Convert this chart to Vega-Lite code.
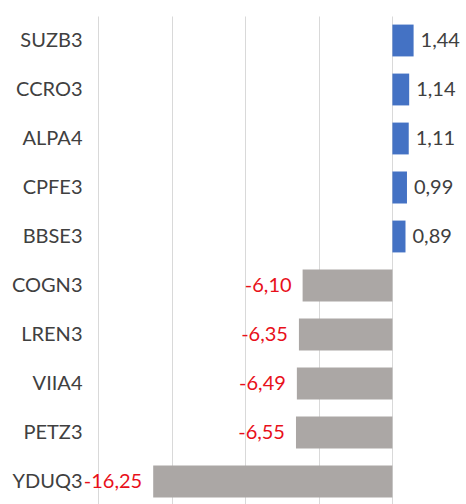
{
  "$schema": "https://vega.github.io/schema/vega-lite/v6.json",
  "autosize": "none",
  "width": 368,
  "height": 490,
  "padding": {"left": 98, "top": 16, "right": 0, "bottom": 0},
  "background": "white",
  "config": {
    "view": {"stroke": null},
    "locale": {"number": {"decimal": ",", "thousands": ".", "grouping": [3], "currency": ["R$", ""], "minus": "-"}},
    "font": "Lato"
  },
  "data": {"values": [
    {"ticker": "SUZB3", "value": 1.44},
    {"ticker": "CCRO3", "value": 1.14},
    {"ticker": "ALPA4", "value": 1.11},
    {"ticker": "CPFE3", "value": 0.99},
    {"ticker": "BBSE3", "value": 0.89},
    {"ticker": "COGN3", "value": -6.10},
    {"ticker": "LREN3", "value": -6.35},
    {"ticker": "VIIA4", "value": -6.49},
    {"ticker": "PETZ3", "value": -6.55},
    {"ticker": "YDUQ3", "value": -16.25}
  ]},
  "encoding": {
    "y": {"field": "ticker", "type": "nominal", "sort": null,
      "scale": {"paddingInner": 0.35, "paddingOuter": 0.175},
      "axis": {"title": null, "domain": false, "ticks": false, "labelPadding": 16, "labelFontSize": 20, "labelColor": "#404040", "labelFont": "Lato"}},
    "x": {"field": "value", "type": "quantitative",
      "scale": {"domain": [-20, 5], "nice": false, "zero": false},
      "axis": {"title": null, "labels": false, "ticks": false, "domain": false, "values": [-20, -15, -10, -5, 0], "gridColor": "#d9d9d9", "gridWidth": 1}}
  },
  "layer": [
    {"mark": {"type": "bar"},
     "encoding": {"color": {"condition": {"test": "datum.value >= 0", "value": "#4472c4"}, "value": "#aba7a5"}}},
    {"transform": [{"filter": "datum.value >= 0"}],
     "mark": {"type": "text", "fontSize": 20, "font": "Lato", "baseline": "middle", "align": "left", "dx": 7, "color": "#404040"},
     "encoding": {"text": {"field": "value", "type": "quantitative", "format": ".2f"}}},
    {"transform": [{"filter": "datum.value < 0"}],
     "mark": {"type": "text", "fontSize": 20, "font": "Lato", "baseline": "middle", "align": "right", "dx": -11, "color": "#e8101a"},
     "encoding": {"text": {"field": "value", "type": "quantitative", "format": ".2f"}}}
  ]
}
